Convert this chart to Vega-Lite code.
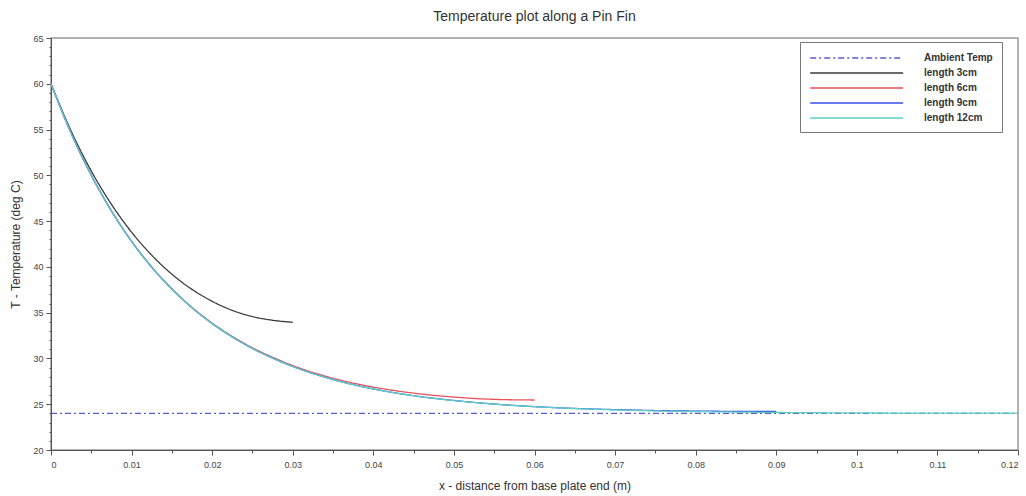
{
  "$schema": "https://vega.github.io/schema/vega-lite/v6.json",
  "autosize": "none",
  "width": 967,
  "height": 412,
  "padding": {"left": 51, "top": 38, "right": 8, "bottom": 46},
  "background": "white",
  "title": {"text": "Temperature plot along a Pin Fin", "fontSize": 14, "font": "Liberation Sans", "fontWeight": "normal", "color": "#333333", "offset": 10},
  "config": {
    "view": {"stroke": "#999999", "strokeWidth": 1.5},
    "axis": {"labelFont": "Liberation Sans", "titleFont": "Liberation Sans", "labelFontSize": 9, "titleFontSize": 12, "titleFontWeight": "normal", "labelColor": "#444444", "titleColor": "#333333", "domainColor": "#555555", "tickColor": "#555555", "grid": false}
  },
  "data": {"values": [
    {"s": "Ambient Temp", "x": 0, "T": 24},
    {"s": "Ambient Temp", "x": 0.12, "T": 24},
    {"s": "length 3cm", "x": 0, "T": 60},
    {"s": "length 3cm", "x": 0.0025, "T": 54.83},
    {"s": "length 3cm", "x": 0.005, "T": 50.47},
    {"s": "length 3cm", "x": 0.0075, "T": 46.83},
    {"s": "length 3cm", "x": 0.01, "T": 43.79},
    {"s": "length 3cm", "x": 0.0125, "T": 41.27},
    {"s": "length 3cm", "x": 0.015, "T": 39.2},
    {"s": "length 3cm", "x": 0.0175, "T": 37.54},
    {"s": "length 3cm", "x": 0.02, "T": 36.24},
    {"s": "length 3cm", "x": 0.0225, "T": 35.25},
    {"s": "length 3cm", "x": 0.025, "T": 34.57},
    {"s": "length 3cm", "x": 0.0275, "T": 34.17},
    {"s": "length 3cm", "x": 0.03, "T": 33.95},
    {"s": "length 6cm", "x": 0, "T": 60},
    {"s": "length 6cm", "x": 0.0025, "T": 54.6},
    {"s": "length 6cm", "x": 0.005, "T": 50.01},
    {"s": "length 6cm", "x": 0.0075, "T": 46.11},
    {"s": "length 6cm", "x": 0.01, "T": 42.8},
    {"s": "length 6cm", "x": 0.0125, "T": 39.98},
    {"s": "length 6cm", "x": 0.015, "T": 37.6},
    {"s": "length 6cm", "x": 0.0175, "T": 35.57},
    {"s": "length 6cm", "x": 0.02, "T": 33.86},
    {"s": "length 6cm", "x": 0.0225, "T": 32.4},
    {"s": "length 6cm", "x": 0.025, "T": 31.16},
    {"s": "length 6cm", "x": 0.0275, "T": 30.13},
    {"s": "length 6cm", "x": 0.03, "T": 29.22},
    {"s": "length 6cm", "x": 0.035, "T": 27.84},
    {"s": "length 6cm", "x": 0.04, "T": 26.87},
    {"s": "length 6cm", "x": 0.045, "T": 26.21},
    {"s": "length 6cm", "x": 0.05, "T": 25.78},
    {"s": "length 6cm", "x": 0.055, "T": 25.53},
    {"s": "length 6cm", "x": 0.06, "T": 25.46},
    {"s": "length 9cm", "x": 0, "T": 60},
    {"s": "length 9cm", "x": 0.0025, "T": 54.6},
    {"s": "length 9cm", "x": 0.005, "T": 50.01},
    {"s": "length 9cm", "x": 0.0075, "T": 46.11},
    {"s": "length 9cm", "x": 0.01, "T": 42.79},
    {"s": "length 9cm", "x": 0.0125, "T": 39.97},
    {"s": "length 9cm", "x": 0.015, "T": 37.58},
    {"s": "length 9cm", "x": 0.0175, "T": 35.54},
    {"s": "length 9cm", "x": 0.02, "T": 33.81},
    {"s": "length 9cm", "x": 0.0225, "T": 32.34},
    {"s": "length 9cm", "x": 0.025, "T": 31.09},
    {"s": "length 9cm", "x": 0.0275, "T": 30.03},
    {"s": "length 9cm", "x": 0.03, "T": 29.12},
    {"s": "length 9cm", "x": 0.035, "T": 27.7},
    {"s": "length 9cm", "x": 0.04, "T": 26.67},
    {"s": "length 9cm", "x": 0.045, "T": 25.93},
    {"s": "length 9cm", "x": 0.05, "T": 25.41},
    {"s": "length 9cm", "x": 0.055, "T": 25.02},
    {"s": "length 9cm", "x": 0.06, "T": 24.74},
    {"s": "length 9cm", "x": 0.065, "T": 24.54},
    {"s": "length 9cm", "x": 0.07, "T": 24.41},
    {"s": "length 9cm", "x": 0.075, "T": 24.31},
    {"s": "length 9cm", "x": 0.08, "T": 24.25},
    {"s": "length 9cm", "x": 0.085, "T": 24.22},
    {"s": "length 9cm", "x": 0.09, "T": 24.21},
    {"s": "length 12cm", "x": 0, "T": 60},
    {"s": "length 12cm", "x": 0.0025, "T": 54.6},
    {"s": "length 12cm", "x": 0.005, "T": 50.01},
    {"s": "length 12cm", "x": 0.0075, "T": 46.11},
    {"s": "length 12cm", "x": 0.01, "T": 42.79},
    {"s": "length 12cm", "x": 0.0125, "T": 39.97},
    {"s": "length 12cm", "x": 0.015, "T": 37.58},
    {"s": "length 12cm", "x": 0.0175, "T": 35.54},
    {"s": "length 12cm", "x": 0.02, "T": 33.81},
    {"s": "length 12cm", "x": 0.0225, "T": 32.34},
    {"s": "length 12cm", "x": 0.025, "T": 31.09},
    {"s": "length 12cm", "x": 0.0275, "T": 30.03},
    {"s": "length 12cm", "x": 0.03, "T": 29.12},
    {"s": "length 12cm", "x": 0.035, "T": 27.7},
    {"s": "length 12cm", "x": 0.04, "T": 26.67},
    {"s": "length 12cm", "x": 0.045, "T": 25.93},
    {"s": "length 12cm", "x": 0.05, "T": 25.4},
    {"s": "length 12cm", "x": 0.055, "T": 25.01},
    {"s": "length 12cm", "x": 0.06, "T": 24.73},
    {"s": "length 12cm", "x": 0.065, "T": 24.53},
    {"s": "length 12cm", "x": 0.07, "T": 24.38},
    {"s": "length 12cm", "x": 0.075, "T": 24.27},
    {"s": "length 12cm", "x": 0.08, "T": 24.2},
    {"s": "length 12cm", "x": 0.09, "T": 24.1},
    {"s": "length 12cm", "x": 0.1, "T": 24.05},
    {"s": "length 12cm", "x": 0.11, "T": 24.03},
    {"s": "length 12cm", "x": 0.12, "T": 24.03}
  ]},
  "mark": {"type": "line", "strokeWidth": 1.3, "interpolate": "monotone"},
  "encoding": {
    "x": {"field": "x", "type": "quantitative", "scale": {"domain": [0, 0.12], "nice": false, "zero": false},
      "axis": {"title": "x - distance from base plate end (m)",
        "values": [0, 0.005, 0.01, 0.015, 0.02, 0.025, 0.03, 0.035, 0.04, 0.045, 0.05, 0.055, 0.06, 0.065, 0.07, 0.075, 0.08, 0.085, 0.09, 0.095, 0.1, 0.105, 0.11, 0.115, 0.12],
        "labelExpr": "round(datum.value * 200) % 2 == 0 ? format(datum.value, '~g') : ''",
        "tickSize": {"condition": {"test": "round(datum.value * 200) % 2 == 0", "value": 5}, "value": 3},
        "labelPadding": 5, "titlePadding": 11}},
    "y": {"field": "T", "type": "quantitative", "scale": {"domain": [20, 65], "nice": false, "zero": false},
      "axis": {"title": "T - Temperature (deg C)",
        "values": [20, 21, 22, 23, 24, 25, 26, 27, 28, 29, 30, 31, 32, 33, 34, 35, 36, 37, 38, 39, 40, 41, 42, 43, 44, 45, 46, 47, 48, 49, 50, 51, 52, 53, 54, 55, 56, 57, 58, 59, 60, 61, 62, 63, 64, 65],
        "labelExpr": "datum.value % 5 == 0 ? datum.label : ''",
        "tickSize": {"condition": {"test": "datum.value % 5 == 0", "value": 5}, "value": 2},
        "labelPadding": 3, "titlePadding": 10}},
    "color": {"field": "s", "type": "nominal",
      "scale": {"domain": ["Ambient Temp", "length 3cm", "length 6cm", "length 9cm", "length 12cm"], "range": ["#5a5ad8", "#3a3a3a", "#e8505a", "#3a4ee8", "#5ccfc4"]},
      "legend": {"title": null, "orient": "none", "legendX": 749, "legendY": 4, "symbolType": "M-1,0H15", "symbolSize": 135, "symbolStrokeWidth": 1.5, "labelFont": "Liberation Sans", "labelFontSize": 10, "labelFontWeight": "bold", "labelColor": "#333333", "labelOffset": 101, "rowPadding": 3, "padding": 9, "strokeColor": "#777777", "fillColor": "white", "labelLimit": 200}},
    "strokeDash": {"field": "s", "type": "nominal",
      "scale": {"domain": ["Ambient Temp", "length 3cm", "length 6cm", "length 9cm", "length 12cm"], "range": [[6, 3, 2, 3], [1, 0], [1, 0], [1, 0], [1, 0]]},
      "legend": null}
  }
}
